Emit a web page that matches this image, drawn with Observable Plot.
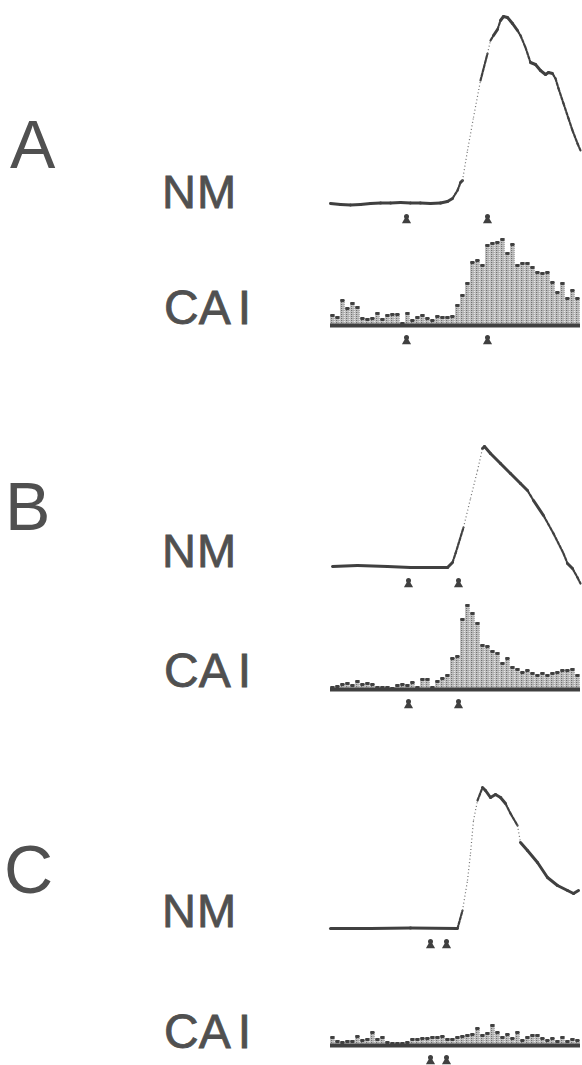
<!DOCTYPE html>
<html><head><meta charset="utf-8">
<script src="https://cdn.jsdelivr.net/npm/d3@7"></script>
<script src="https://cdn.jsdelivr.net/npm/@observablehq/plot@0.6"></script>
<style>
html,body{margin:0;padding:0;background:#fff;}
#fig{position:relative;width:582px;height:1065px;overflow:hidden;font-family:"Liberation Sans",Arial,sans-serif;color:#505050;}
.lbl{position:absolute;line-height:1;white-space:nowrap;}
.sub{-webkit-text-stroke:0.8px #505050;}
.pl{position:absolute;}
.pl svg{background:transparent !important;overflow:visible;}
</style></head><body><div id="fig"></div>
<script>
// ---------- data (time in ms, amplitude in arbitrary units) ----------
const panels = ["A", "B", "C"];
const traceLabel = "NM";
const histLabel = "CA1";

const nmTimeA = [0,10,20,30,40,50,60,70,80,90,100,110,117,122,127,130,132,137,143,150,157,160,163,167,170,173,177,182,187,190,195,200,205,210,215,218,222,225,228,233,238,242,247,250];
const nmAmpA  = [0,-1,-1.5,-1,0,0.5,0.5,1,0.5,0.5,0,0.5,2,5,13,21,23,53,86,123,150,163,168,174,183,187,186,180,173,168,156,141,139,133,129,131,130,125,115,100,85,73,60,53];

const nmTimeB = [2,27,57,80,117,122,125,133,140,147,152,154,160,170,180,190,197,203,213,223,233,237,242,247,250];
const nmAmpB  = [1,2,1,0,0,5,14,40,69,97,119,121,114,104,94,84,77,67,52,34,14,4,-1,-10,-16];

const nmTimeC = [0,40,80,127,132,137,140,143,147,152,155,160,165,170,175,180,187,190,197,207,217,227,237,243,248];
const nmAmpC  = [0,0,0.5,0,18,48,75,108,128,141,138,131,134,131,125,115,103,86,78,66,51,43,38,35,38];

const binWidth = 5; // ms per histogram bin
const histA = [11,9,26,18,23,19,8,7,8,13,7,11,12,12,3,13,6,9,11,8,6,10,9,9,10,21,31,43,64,66,61,81,83,84,87,73,82,61,63,63,59,54,53,54,44,34,43,28,36,28];
const histB = [3,4,6,7,5,9,6,7,6,3,3,3,2,5,6,5,8,3,11,11,3,9,12,15,32,34,71,85,77,67,45,44,39,37,27,32,23,21,18,20,17,15,17,15,17,18,20,20,21,15];
const histC = [9,5,4,5,5,10,6,7,14,7,9,4,3,3,3,4,7,7,8,8,9,9,10,7,7,9,10,11,12,18,11,13,21,14,9,12,8,14,6,9,11,11,8,6,8,5,9,5,7,6];

const markersA = [76, 157];
const markersB = [78, 128];
const markersC = [100, 116];

const traces = [[nmTimeA, nmAmpA], [nmTimeB, nmAmpB], [nmTimeC, nmAmpC]];
const hists = [histA, histB, histC];
const markers = [markersA, markersB, markersC];

// ---------- layout (page pixels) ----------
const nmBase = [203, 567, 928];
const caBase = [325, 689, 1045];
const letterBase = [168, 530, 893];
const nmTextBase = [208, 567, 927];
const caTextBase = [325, 688, 1049];
const ink = "#404040";

const fig = document.getElementById("fig");
function label(text, left, baseline, size, cls, extra) {
  const d = document.createElement("div");
  d.className = "lbl" + (cls ? " " + cls : "");
  d.style.fontSize = size + "px";
  d.style.left = left + "px";
  d.style.top = (baseline - 0.8465 * size) + "px";
  if (extra) extra(d); else d.textContent = text;
  fig.appendChild(d);
}

function segments(ts, as) {
  const segs = [];
  for (let i = 1; i < ts.length; i++) {
    const slope = Math.abs(as[i] - as[i-1]) / Math.max(0.5, ts[i] - ts[i-1]);
    segs.push({t1: ts[i-1], a1: as[i-1], t2: ts[i], a2: as[i], slope});
  }
  return segs;
}

panels.forEach((p, k) => {
  label(p, [10, 5, 4][k], letterBase[k], 68, "");
  label(traceLabel, 162, nmTextBase[k], 47, "sub", d => { d.textContent = traceLabel; d.style.letterSpacing = "1px"; });
  label(histLabel, 164, caTextBase[k], 48, "sub", d => {
    d.appendChild(document.createTextNode("CA"));
    const s = document.createElement("span");
    s.textContent = "I";
    s.style.marginLeft = "7px";
    d.appendChild(s);
  });

  // NM trace
  const [ts, as] = traces[k];
  const segs = segments(ts, as);
  const nm = Plot.plot({
    width: 262, height: 240,
    marginLeft: 10, marginRight: 2, marginTop: 0, marginBottom: 20,
    x: {domain: [0, 250], axis: null},
    y: {domain: [-20, 200], axis: null},
    style: {background: "transparent", overflow: "visible"},
    marks: [
      Plot.link(segs.filter(s => s.slope < 1.6), {x1: "t1", y1: "a1", x2: "t2", y2: "a2", stroke: ink, strokeWidth: 3, strokeLinecap: "round"}),
      Plot.link(segs.filter(s => s.slope >= 1.6 && s.slope < 4), {x1: "t1", y1: "a1", x2: "t2", y2: "a2", stroke: ink, strokeWidth: 2.2, strokeDasharray: "3,1.5", strokeLinecap: "round"}),
      Plot.link(segs.filter(s => s.slope >= 4), {x1: "t1", y1: "a1", x2: "t2", y2: "a2", stroke: "#707070", strokeWidth: 1.2, strokeDasharray: "1,2.5"}),
      Plot.dot(markers[k], {x: d => d, y: () => 0, dy: 17, symbol: "triangle", r: 3.4, fill: ink, stroke: "none"}),
      Plot.dot(markers[k], {x: d => d, y: () => 0, dy: 13, r: 2.5, fill: ink, stroke: "none"})
    ]
  });
  const w1 = document.createElement("div");
  w1.className = "pl";
  w1.style.left = "320px";
  w1.style.top = (nmBase[k] - 200) + "px";
  w1.appendChild(nm);
  fig.appendChild(w1);

  // CA1 histogram
  const bins = hists[k].map((h, i) => ({t0: i * binWidth, t1: (i + 1) * binWidth, h}));
  const ca = Plot.plot({
    width: 262, height: 120,
    marginLeft: 10, marginRight: 2, marginTop: 0, marginBottom: 20,
    x: {domain: [0, 250], axis: null},
    y: {domain: [0, 100], axis: null},
    style: {background: "transparent", overflow: "visible"},
    marks: [
      Plot.rect(bins, {x1: "t0", x2: "t1", y1: 0, y2: "h", fill: "#c2c2c2", insetRight: 0.6}),
      Plot.ruleX(bins, {x: d => d.t0 + 1.2, y1: 0, y2: "h", stroke: "#5e5e5e", strokeWidth: 1, strokeDasharray: "1,1"}),
      Plot.ruleX(bins, {x: d => d.t0 + 3.6, y1: 0, y2: "h", stroke: "#8e8e8e", strokeWidth: 1, strokeDasharray: "1,1"}),
      Plot.rect(bins, {x1: "t0", x2: "t1", y1: d => Math.max(0, d.h - 3), y2: "h", fill: ink, insetLeft: 0.2, insetRight: 0.4, rx: 1.2}),
      Plot.ruleY([0], {stroke: ink, strokeWidth: 4}),
      Plot.dot(markers[k], {x: d => d, y: () => 0, dy: 16, symbol: "triangle", r: 3.4, fill: ink, stroke: "none"}),
      Plot.dot(markers[k], {x: d => d, y: () => 0, dy: 12, r: 2.5, fill: ink, stroke: "none"})
    ]
  });
  const w2 = document.createElement("div");
  w2.className = "pl";
  w2.style.left = "320px";
  w2.style.top = (caBase[k] - 100) + "px";
  w2.appendChild(ca);
  fig.appendChild(w2);
});
</script></body></html>
